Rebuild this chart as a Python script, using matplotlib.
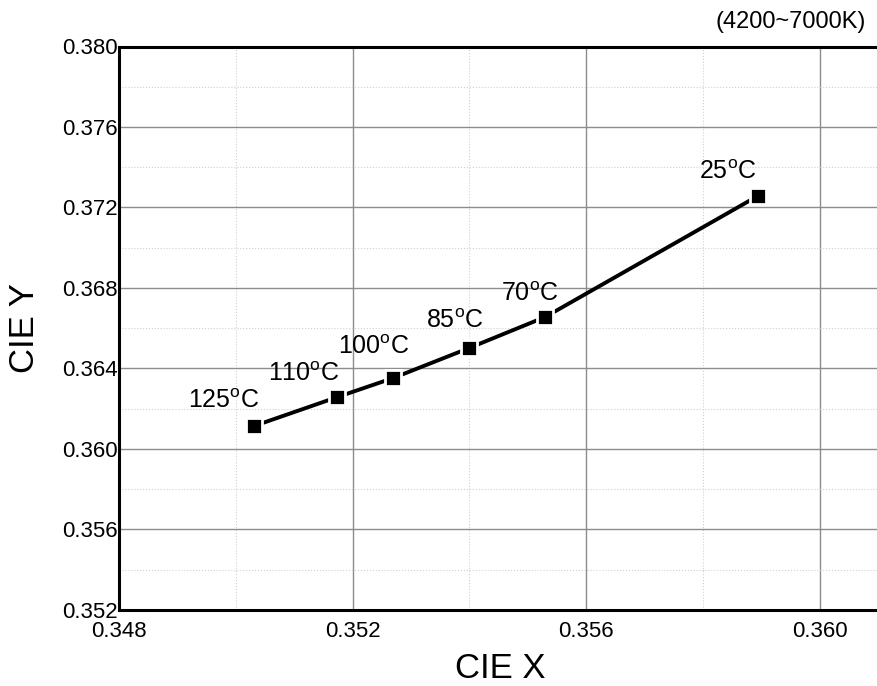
import matplotlib
matplotlib.use("Agg")
import matplotlib.pyplot as plt
from matplotlib.ticker import MultipleLocator

plt.rcParams['font.family'] = ['Liberation Sans', 'DejaVu Sans']
plt.rcParams['mathtext.fontset'] = 'custom'
plt.rcParams['mathtext.rm'] = 'Liberation Sans'

# data
temps = ['125', '110', '100', '85', '70', '25']
cie_x = [0.35031, 0.35174, 0.35270, 0.35400, 0.35530, 0.35894]
cie_y = [0.36114, 0.36258, 0.36353, 0.36502, 0.36656, 0.37257]
# label offsets (pixels) from each point
lab_dx = [-30, -34, -20, -15, -15, -30]
lab_dy = [18, 16, 24, 20, 16, 17]

x_ticks = [0.348, 0.352, 0.356, 0.360]
y_ticks = [0.352, 0.356, 0.360, 0.364, 0.368, 0.372, 0.376, 0.380]

fig = plt.figure(figsize=(8.78, 6.86), dpi=100)
ax = fig.add_axes([119/878, 1 - 610/686, 1 - 119/878, (610 - 46.5)/686])

ax.plot(cie_x, cie_y, color='black', lw=2.8, marker='s', ms=11,
        mfc='black', mec='white', mew=2, zorder=3)

for t, x, y, dx, dy in zip(temps, cie_x, cie_y, lab_dx, lab_dy):
    ax.annotate(t + r'$^{\mathregular{o}}$C', (x, y), xytext=(dx, dy),
                textcoords='offset pixels', ha='center', va='baseline',
                fontsize=18)

ax.set_xlim(0.348, 0.361)
ax.set_ylim(0.352, 0.380)
ax.set_xticks(x_ticks)
ax.set_xticklabels(['%.3f' % v for v in x_ticks])
ax.set_yticks(y_ticks)
ax.set_yticklabels(['%.3f' % v for v in y_ticks])
ax.xaxis.set_minor_locator(MultipleLocator(0.002))
ax.yaxis.set_minor_locator(MultipleLocator(0.002))

ax.grid(which='major', color='#8c8c8c', lw=1.0, ls='-')
ax.grid(which='minor', color='#d0d0d0', lw=0.8, ls=':')
ax.set_axisbelow(True)

ax.tick_params(which='both', length=0, labelsize=16)
ax.tick_params(axis='y', pad=1)
ax.tick_params(axis='x', pad=8)

for s in ['left', 'bottom', 'top']:
    ax.spines[s].set_linewidth(2.2)
ax.spines['right'].set_visible(False)

ax.set_xlabel('CIE X', fontsize=25, va='center')
ax.set_ylabel('CIE Y', fontsize=25, va='center')
ax.xaxis.set_label_coords((500 - 119)/759, -(668 - 610)/563.5)
ax.yaxis.set_label_coords(-(119 - 25)/759, 0.5)

fig.text(866/878, 1 - 22/686, '(4200~7000K)', ha='right', va='center', fontsize=17)

fig.savefig('out.png', dpi=100)
